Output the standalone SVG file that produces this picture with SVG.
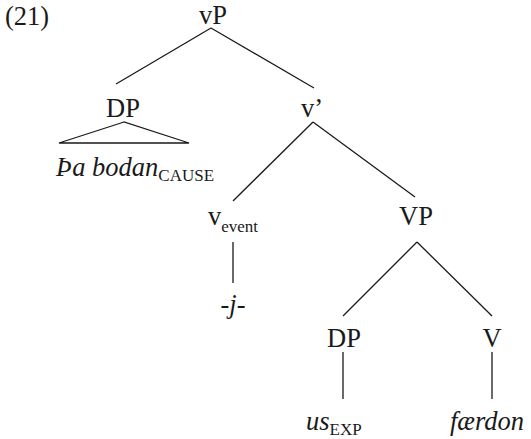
<svg xmlns="http://www.w3.org/2000/svg" width="531" height="439" viewBox="0 0 531 439">
<style>
text{font-family:"Liberation Serif","Times New Roman",serif;font-size:26.5px;fill:#1a1a1a}
.i{font-style:italic}
.s{font-size:17px;font-style:normal}
.m{text-anchor:middle}
.e line,.e polygon{stroke:#1a1a1a;stroke-width:1.3;fill:none}
</style>
<rect width="531" height="439" fill="#fff"/>
<text x="5" y="25">(21)</text>
<g class="e" id="edges">
<line x1="211" y1="28" x2="116" y2="84"/>
<line x1="211" y1="28" x2="314" y2="88"/>
<polygon points="124,122 59,143 189,143"/>
<line x1="313" y1="122" x2="233" y2="201"/>
<line x1="313" y1="122" x2="415" y2="197"/>
<line x1="233" y1="242" x2="233" y2="283"/>
<line x1="417" y1="242" x2="343" y2="316"/>
<line x1="417" y1="242" x2="492" y2="316"/>
<line x1="343" y1="352" x2="343" y2="399"/>
<line x1="492" y1="352" x2="492" y2="399"/>
</g>
<g id="vP"><text class="m" x="213" y="24">vP</text></g>
<g id="DP1"><text class="m" x="123" y="117">DP</text></g>
<g id="pabodan"><text class="i" x="56" y="176">Þa bodan<tspan class="s" dy="5">CAUSE</tspan></text></g>
<g id="vbar"><text class="m" x="312" y="117">v’</text></g>
<g id="vevent"><text x="208" y="225">v<tspan class="s" dy="7">event</tspan></text></g>
<g id="j"><text class="i m" x="233" y="313">-j-</text></g>
<g id="VP"><text class="m" x="416" y="225">VP</text></g>
<g id="DP2"><text class="m" x="344" y="347">DP</text></g>
<g id="V"><text class="m" x="492" y="347">V</text></g>
<g id="us"><text class="i" x="306" y="430">us<tspan class="s" dy="5">EXP</tspan></text></g>
<g id="faerdon"><text class="i" x="450" y="430">færdon</text></g>
</svg>
